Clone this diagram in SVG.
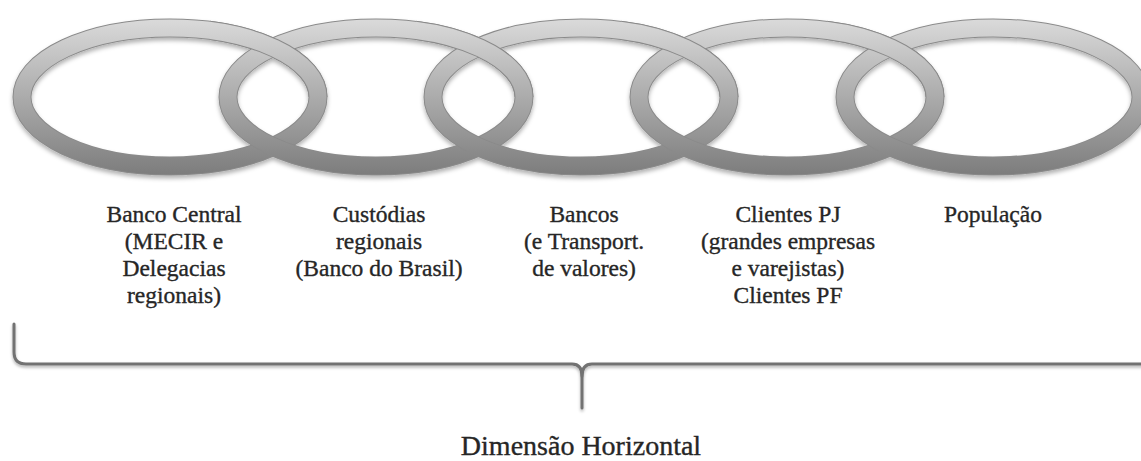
<svg xmlns="http://www.w3.org/2000/svg" width="1141" height="461" viewBox="0 0 1141 461">
  <style>
    .lbl { font-family: "Liberation Serif", "Times New Roman", serif; font-size: 23.5px; fill: #262626; stroke: #262626; stroke-width: 0.35; text-anchor: middle; }
    .title { font-family: "Liberation Serif", "Times New Roman", serif; font-size: 28px; fill: #262626; stroke: #262626; stroke-width: 0.35; text-anchor: middle; }
    .edge { fill: none; stroke: #8a8a8a; stroke-width: 19; }
    .band { fill: none; stroke: url(#ringGrad); stroke-width: 17; }
    .brace { fill: none; stroke: #727272; stroke-width: 3; stroke-linecap: round; stroke-linejoin: round; }
  </style>
  <defs>
    <linearGradient id="ringGrad" gradientUnits="userSpaceOnUse" x1="0" y1="19" x2="0" y2="176">
      <stop offset="0" stop-color="#dadada"/>
      <stop offset="0.5" stop-color="#ababab"/>
      <stop offset="1" stop-color="#7c7c7c"/>
    </linearGradient>
    <filter id="shadow" x="-10%" y="-10%" width="120%" height="130%">
      <feDropShadow dx="0" dy="3" stdDeviation="2.2" flood-color="#000" flood-opacity="0.3"/>
    </filter>
    <filter id="bshadow" x="-5%" y="-20%" width="110%" height="160%">
      <feDropShadow dx="0" dy="2" stdDeviation="1.5" flood-color="#000" flood-opacity="0.3"/>
    </filter>
    <g id="ring">
      <ellipse class="edge" cx="0" cy="97" rx="148" ry="69"/>
      <ellipse class="band" cx="0" cy="97" rx="148" ry="69"/>
    </g>
    <clipPath id="topCross">
      <rect x="40" y="0" width="130" height="97"/>
    </clipPath>
  </defs>

  <g id="rings" filter="url(#shadow)">
    <g id="ring1"><use href="#ring" x="170"/></g>
    <g id="ring2"><use href="#ring" x="376"/></g>
    <g id="ring3"><use href="#ring" x="581"/></g>
    <g id="ring4"><use href="#ring" x="787"/></g>
    <g id="ring5"><use href="#ring" x="993"/></g>
    <g transform="translate(170,0)" clip-path="url(#topCross)"><use href="#ring"/></g>
    <g transform="translate(376,0)" clip-path="url(#topCross)"><use href="#ring"/></g>
    <g transform="translate(581,0)" clip-path="url(#topCross)"><use href="#ring"/></g>
    <g transform="translate(787,0)" clip-path="url(#topCross)"><use href="#ring"/></g>
  </g>

  <g id="label1">
    <text class="lbl" x="174" y="222">Banco Central</text>
    <text class="lbl" x="174" y="249">(MECIR e</text>
    <text class="lbl" x="174" y="276">Delegacias</text>
    <text class="lbl" x="174" y="303">regionais)</text>
  </g>
  <g id="label2">
    <text class="lbl" x="379" y="222">Custódias</text>
    <text class="lbl" x="379" y="249">regionais</text>
    <text class="lbl" x="379" y="276">(Banco do Brasil)</text>
  </g>
  <g id="label3">
    <text class="lbl" x="584" y="222">Bancos</text>
    <text class="lbl" x="584" y="249">(e Transport.</text>
    <text class="lbl" x="584" y="276">de valores)</text>
  </g>
  <g id="label4">
    <text class="lbl" x="788" y="222">Clientes PJ</text>
    <text class="lbl" x="788" y="249">(grandes empresas</text>
    <text class="lbl" x="788" y="276">e varejistas)</text>
    <text class="lbl" x="788" y="303">Clientes PF</text>
  </g>
  <g id="label5">
    <text class="lbl" x="993" y="222">População</text>
  </g>

  <g id="connectors" filter="url(#bshadow)">
    <path class="brace" d="M14,324 L14,352 Q14,364 26,364 L572,364 Q582,364 582,376 L582,408"/>
    <path class="brace" d="M582,376 Q582,364 592,364 L1143,364"/>
  </g>

  <g id="caption">
    <text class="title" x="581" y="455">Dimensão Horizontal</text>
  </g>
</svg>
